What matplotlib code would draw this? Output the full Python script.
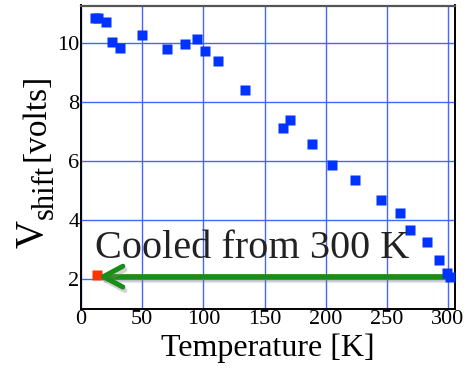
import matplotlib
matplotlib.use("Agg")
import matplotlib.pyplot as plt
import matplotlib.patheffects as pe

plt.rcParams['font.family'] = 'serif'
plt.rcParams['font.serif'] = ['Liberation Serif', 'DejaVu Serif']

# Data
temps = [11.2, 13.9, 20.2, 25.1, 32.2, 50.1, 70.0, 85.0, 95.1, 101.1, 112.3, 134.4,
         164.9, 171.1, 189.1, 205.2, 224.0, 245.0, 260.8, 269.0, 283.2, 293.0, 299.0, 301.7]
vshift = [10.83, 10.83, 10.69, 10.02, 9.81, 10.25, 9.79, 9.95, 10.14, 9.73, 9.37, 8.40,
          7.10, 7.38, 6.57, 5.86, 5.36, 4.67, 4.24, 3.66, 3.26, 2.64, 2.19, 2.08]
cooled_T = [12.8]
cooled_V = [2.14]
arrow_from = (297.6, 2.08)
arrow_to = (14.0, 2.08)
xticks = [0, 50, 100, 150, 200, 250, 300]
yticks = [2, 4, 6, 8, 10]
annot_text = "Cooled from 300 K"

W, H = 471, 369
fig = plt.figure(figsize=(W / 100, H / 100), dpi=100)
ax = fig.add_axes([81 / W, 1 - 309 / H, (455 - 81) / W, (309 - 5.5) / H])

ax.set_xlim(0, 305.7)
ax.set_ylim(0.984, 11.26)
ax.set_xticks(xticks)
ax.set_yticks(yticks)
ax.grid(True, color='#4466ff', lw=1.0)
ax.set_axisbelow(True)
ax.tick_params(length=0, labelsize=16, pad=1)

for side in ['left', 'bottom', 'right']:
    ax.spines[side].set_color('black')
    ax.spines[side].set_linewidth(1.4)
ax.spines['top'].set_color('#555555')
ax.spines['top'].set_linewidth(1.6)

ax.plot(cooled_T, cooled_V, 's', color='#ff3300', ms=6.5, mec='none', zorder=3)

ax.annotate('', xy=arrow_to, xytext=arrow_from,
            arrowprops=dict(arrowstyle='->,head_length=1.4,head_width=0.75',
                            color='#1a8c1a', lw=3.6, shrinkA=0, shrinkB=0,
                            mutation_scale=10,
                            path_effects=[pe.SimpleLineShadow(offset=(1.5, -2.5),
                                                              shadow_color='gray', alpha=0.35),
                                          pe.Normal()]),
            zorder=4)

ax.plot(temps, vshift, 's', color='#0033ff', ms=6.5, mec='none', zorder=5)

ax.text(11.4, 2.71, annot_text, fontsize=29, color='#222222', ha='left', va='baseline', zorder=6)

ax.set_xlabel('Temperature [K]', fontsize=23, labelpad=3)

# y label composed of pieces: V, subscript "shift", [volts]
def fpos(x, y):
    return (x / W, 1 - y / H)

fig.canvas.draw()
r = fig.canvas.get_renderer()
t1 = fig.text(*fpos(43, 248), 'V', rotation=90, rotation_mode='anchor',
              ha='left', va='baseline', fontsize=28)
bb = t1.get_window_extent(r)
top_px = H - bb.y1
t2 = fig.text(*fpos(53, top_px - 1), 'shift', rotation=90, rotation_mode='anchor',
              ha='left', va='baseline', fontsize=22)
bb2 = t2.get_window_extent(r)
top2 = H - bb2.y1
t3 = fig.text(*fpos(44, top2 - 4), '[volts]', rotation=90, rotation_mode='anchor',
              ha='left', va='baseline', fontsize=24)

fig.savefig('out.png', dpi=100)
